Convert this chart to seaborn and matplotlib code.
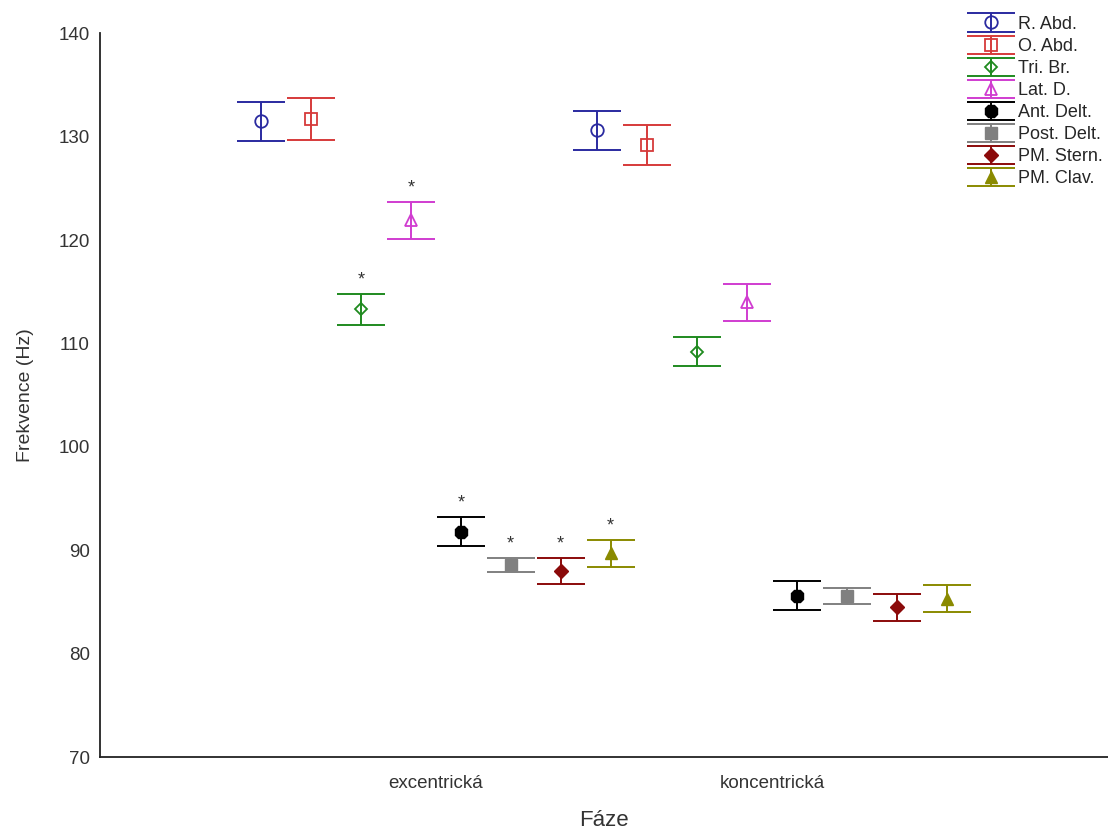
import numpy as np
import pandas as pd
import matplotlib
matplotlib.use("Agg")
import matplotlib.pyplot as plt
import seaborn as sns
from matplotlib.container import ErrorbarContainer
from matplotlib.legend_handler import HandlerErrorbar, HandlerTuple

# Phases and muscles
phases = ["excentrická", "koncentrická"]
muscles = ["R. Abd.", "O. Abd.", "Tri. Br.", "Lat. D.",
           "Ant. Delt.", "Post. Delt.", "PM. Stern.", "PM. Clav."]

# Mean frequency (Hz) per muscle, for each phase
mean_exc = [131.5, 131.7, 113.3, 121.9, 91.8, 88.6, 88.0, 89.7]
mean_kon = [130.6, 129.2, 109.2, 114.0, 85.6, 85.6, 84.5, 85.3]

# Error (Hz) per muscle, for each phase
err_exc = [1.9, 2.0, 1.5, 1.8, 1.4, 0.7, 1.3, 1.3]
err_kon = [1.9, 1.95, 1.4, 1.8, 1.4, 0.75, 1.3, 1.3]

# Significance flags (excentrická vs koncentrická)
signif_exc = [False, False, True, True, True, True, True, True]
signif_kon = [False] * 8

colors = ["#2a2aa0", "#d63a3a", "#1f8a1f", "#d03cd0",
          "#000000", "#808080", "#8b0a0a", "#8a8a00"]
markers = ["o", "s", "D", "^", "8", "s", "D", "^"]
open_marker = [True, True, True, True, False, False, False, False]
marker_sizes = [9, 8, 6.5, 8, 9.5, 9, 7, 8.5]

df = pd.DataFrame({
    "Fáze": np.repeat(phases, len(muscles)),
    "Sval": muscles * len(phases),
    "Frekvence": mean_exc + mean_kon,
    "err": err_exc + err_kon,
    "sig": signif_exc + signif_kon,
})

sns.set_style("white")
plt.rcParams["font.family"] = ["Liberation Sans", "DejaVu Sans"]

fig = plt.figure(figsize=(11.08, 8.32), dpi=100)
ax = fig.add_axes([0.090, 0.090, 0.910, 0.870])

sns.pointplot(data=df, x="Fáze", y="Frekvence", hue="Sval",
              hue_order=muscles, order=phases, palette=colors,
              markers=markers, linestyles="none", dodge=1.04,
              errorbar=None, legend=False, ax=ax)

point_lines = [ln for ln in ax.lines if ln.get_marker() not in (None, "None", "")]
legend_handles = []
for i, (m, ln) in enumerate(zip(muscles, point_lines)):
    col = colors[i]
    ln.set_markersize(marker_sizes[i])
    ln.set_zorder(4)
    if open_marker[i]:
        ln.set_markerfacecolor("none")
        ln.set_markeredgecolor(col)
        ln.set_markeredgewidth(1.3)
    else:
        ln.set_markerfacecolor(col)
        ln.set_markeredgecolor(col)
        ln.set_markeredgewidth(1.0)
    xs = np.asarray(ln.get_xdata(), dtype=float)
    sub = df[df["Sval"] == m].set_index("Fáze").loc[phases]
    ys = sub["Frekvence"].to_numpy()
    es = sub["err"].to_numpy()
    eb = ax.errorbar(xs, ys, yerr=es, fmt="none", ecolor=col,
                     elinewidth=1.4, capsize=17, capthick=1.4, zorder=3)
    for x, y, e, s in zip(xs, ys, es, sub["sig"].to_numpy()):
        if s:
            ax.annotate("*", (x, y + e), xytext=(0, 4), textcoords="offset points",
                        ha="center", va="bottom", fontsize=13, color="#333333")
    legend_handles.append((eb, ln))

ax.set_xlim(-1, 2)
ax.set_ylim(70, 140)
ax.set_yticks(np.arange(70, 141, 10))
ax.tick_params(axis="both", length=0, labelsize=13.5, colors="#333333")
ax.tick_params(axis="y", pad=7)
ax.tick_params(axis="x", pad=13)
ax.set_xlabel("Fáze", fontsize=16, color="#333333", va="center")
ax.xaxis.set_label_coords(0.5, -0.088)
ax.set_ylabel("Frekvence (Hz)", fontsize=14, color="#333333", va="center")
ax.yaxis.set_label_coords(-0.074, 0.5)
for side in ["top", "right"]:
    ax.spines[side].set_visible(False)
for side in ["left", "bottom"]:
    ax.spines[side].set_color("#222222")
    ax.spines[side].set_linewidth(1.3)

fig.legend(legend_handles, muscles, loc="upper left",
           bbox_to_anchor=(0.877, 0.981), frameon=False, fontsize=13,
           handlelength=2.1, handletextpad=0.45, labelspacing=0.28,
           borderpad=0, borderaxespad=0,
           handler_map={ErrorbarContainer: HandlerErrorbar(yerr_size=0.5),
                        tuple: HandlerTuple(ndivide=1)})

fig.savefig("out.png", dpi=100)
